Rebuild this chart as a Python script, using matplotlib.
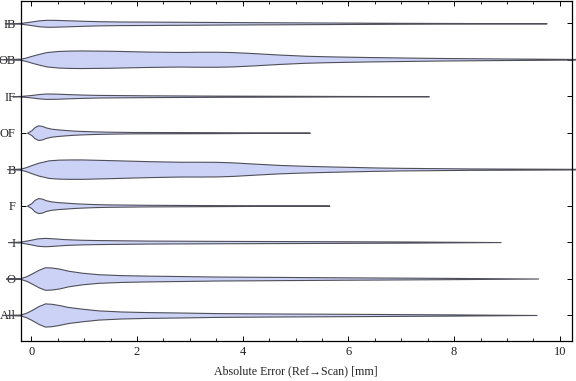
import numpy as np
import matplotlib
matplotlib.use("Agg")
import matplotlib.pyplot as plt
from matplotlib.ticker import MultipleLocator

# --- categories, bottom to top ---
labels = ["All", "O", "I", "F", "B", "OF", "IF", "OB", "IB"]

# --- violin outlines: x [mm], half-width [px] ---
ib_x = [-0.50, -0.2, 0.0, 0.15, 0.30, 0.45, 0.7, 1.0, 1.27, 1.7, 2.2, 3.5, 4.7, 5.9, 7.0, 8.0, 9.75]
ib_w = [0, 0.4, 1.8, 3.0, 3.5, 3.4, 3.0, 2.5, 2.1, 1.8, 1.7, 1.3, 1.0, 0.7, 0.45, 0.3, 0]

ob_x = [-0.6, -0.2, -0.1, 0.0, 0.14, 0.30, 0.52, 0.75, 0.96, 1.5, 2.2, 2.8, 3.2, 3.5, 3.8,
        4.2, 4.7, 5.2, 5.65, 6.4, 7.7, 8.9, 10.35]
ob_w = [0, 0.6, 1.6, 3.2, 5.2, 7.2, 8.3, 8.7, 8.8, 8.5, 7.7, 7.3, 7.5, 7.5, 7.2,
        6.2, 4.7, 3.5, 2.9, 2.2, 1.3, 0.8, 0.3]

if_x = [-0.36, -0.2, 0.0, 0.15, 0.28, 0.45, 0.7, 1.0, 1.27, 2.2, 3.5, 5.0, 7.52]
if_w = [0, 0.3, 1.2, 2.2, 2.7, 2.6, 2.1, 1.6, 1.3, 0.9, 0.6, 0.4, 0]

of_x = [-0.08, 0.0, 0.06, 0.13, 0.2, 0.28, 0.38, 0.5, 0.64, 0.8, 0.96, 1.2, 1.46, 1.9, 3.4, 5.27]
of_w = [0, 2.3, 5.5, 7.3, 6.8, 5.2, 4.0, 3.3, 2.7, 2.1, 1.7, 1.3, 1.0, 0.7, 0.5, 0]

b_x = [-0.46, -0.2, -0.1, 0.0, 0.14, 0.33, 0.52, 0.75, 0.96, 1.5, 2.2, 2.8, 3.2, 3.5, 3.8,
       4.2, 4.7, 5.2, 5.65, 6.5, 7.0, 8.3, 10.35]
b_w = [0, 0.6, 2.0, 4.0, 6.5, 8.8, 9.5, 9.7, 9.7, 9.0, 8.0, 7.4, 7.4, 7.3, 6.8,
       5.6, 4.2, 3.3, 2.7, 1.7, 1.3, 0.7, 0.3]

f_x = [-0.08, 0.0, 0.06, 0.13, 0.2, 0.28, 0.38, 0.5, 0.64, 0.8, 0.96, 1.2, 1.46, 2.2, 3.5, 5.64]
f_w = [0, 2.4, 5.7, 7.5, 7.0, 5.3, 4.2, 3.5, 3.0, 2.4, 2.0, 1.5, 1.2, 0.8, 0.5, 0]

i_x = [-0.44, -0.2, 0.0, 0.12, 0.26, 0.4, 0.64, 0.95, 1.27, 2.2, 3.5, 4.7, 5.9, 7.0, 8.88]
i_w = [0, 0.5, 2.4, 3.7, 4.2, 3.8, 2.9, 2.3, 2.0, 1.5, 1.2, 1.0, 0.8, 0.6, 0]

o_x = [-0.48, -0.2, -0.1, 0.0, 0.14, 0.26, 0.38, 0.52, 0.7, 0.96, 1.27, 1.7, 2.2, 2.8, 3.5,
       4.7, 5.9, 7.0, 8.0, 9.59]
o_w = [0, 0.5, 2.2, 4.8, 8.8, 11.3, 11.0, 10.0, 7.8, 5.8, 4.3, 3.4, 2.9, 2.5, 2.0,
       1.6, 1.2, 0.9, 0.6, 0]

all_x = [-0.55, -0.2, -0.1, 0.0, 0.14, 0.26, 0.38, 0.52, 0.7, 0.96, 1.27, 1.7, 2.2, 2.8, 3.5,
         4.7, 5.9, 7.0, 8.0, 9.56]
all_w = [0, 0.5, 2.2, 4.8, 9.0, 11.6, 11.2, 10.0, 8.0, 6.3, 4.6, 3.5, 2.9, 2.5, 1.9,
         1.5, 1.2, 0.9, 0.6, 0]

shapes = [(all_x, all_w), (o_x, o_w), (i_x, i_w), (f_x, f_w), (b_x, b_w),
          (of_x, of_w), (if_x, if_w), (ob_x, ob_w), (ib_x, ib_w)]

PX_PER_CAT = 36.46  # pixel spacing between categories
FILL = "#ccd2f6"
EDGE = "#4f4f5a"

plt.rcParams["font.family"] = ["Liberation Serif", "DejaVu Serif"]

fig = plt.figure(figsize=(5.76, 3.81), dpi=100)
ax = fig.add_axes([20.7 / 576, 40.3 / 381, 551.0 / 576, 340.2 / 381])

for k, (xs, ws) in enumerate(shapes):
    pos = k + 1
    xs = np.array(xs)
    hw = np.array(ws) / PX_PER_CAT
    ax.fill_between(xs, pos - hw, pos + hw, facecolor=FILL, edgecolor=EDGE,
                    linewidth=0.8, clip_on=False, zorder=2)

ax.set_xlim(-0.2, 10.225)
ax.set_ylim(0.295, 9.625)

ax.xaxis.set_major_locator(MultipleLocator(2))
ax.xaxis.set_minor_locator(MultipleLocator(0.5))
ax.set_yticks(range(1, len(labels) + 1))
ax.set_yticklabels(labels)

ax.tick_params(axis="x", which="major", direction="in", top=True, length=3.5,
               width=0.7, labelsize=9, pad=4, labelcolor="#222222")
ax.tick_params(axis="x", which="minor", direction="in", top=True, length=2,
               width=0.6)
ax.tick_params(axis="y", which="major", direction="in", right=True, length=3.5,
               width=0.7, labelsize=9, pad=3.5, labelcolor="#222222")

for sp in ax.spines.values():
    sp.set_linewidth(0.9)
    sp.set_zorder(3)

ax.set_xlabel("Absolute Error (Ref\u2192Scan) [mm]", fontsize=8.6, labelpad=5,
              color="#222222")

fig.savefig("out.png", dpi=100)
